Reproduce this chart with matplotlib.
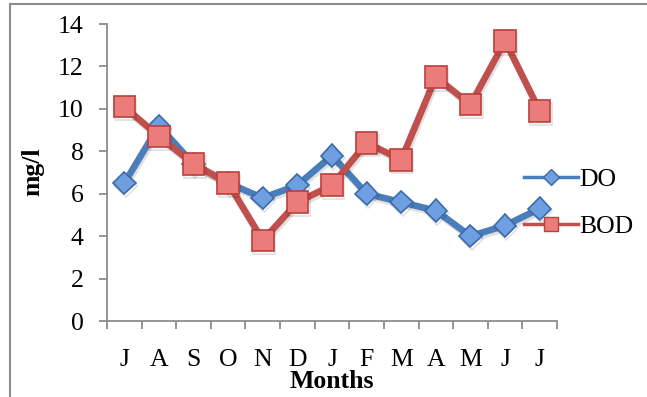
import matplotlib
matplotlib.use("Agg")
import matplotlib.pyplot as plt
from matplotlib.lines import Line2D
import matplotlib.patheffects as pe

months = ["J", "A", "S", "O", "N", "D", "J", "F", "M", "A", "M", "J", "J"]
do_vals = [6.5, 9.2, 7.4, 6.5, 5.8, 6.4, 7.8, 6.0, 5.6, 5.2, 4.0, 4.5, 5.3]
bod_vals = [10.1, 8.7, 7.4, 6.5, 3.8, 5.6, 6.4, 8.4, 7.6, 11.5, 10.2, 13.2, 9.9]
y_ticks = [0, 2, 4, 6, 8, 10, 12, 14]

FONT = "Liberation Serif"
plt.rcParams["font.family"] = [FONT, "DejaVu Serif"]
FS = 18.5

DO_LINE = "#4a7ebb"
DO_FILL = "#6f9fe0"
DO_EDGE = "#3b6aa8"
BOD_LINE = "#c0504d"
BOD_FILL = "#ec7c7a"
BOD_EDGE = "#b8403d"

fig = plt.figure(figsize=(6.47, 3.97), dpi=100)
ax = fig.add_axes([107/647, 1 - 321/397, (557-107)/647, (321-24)/397])

x = [i + 0.5 for i in range(len(months))]
shadow = [pe.SimpleLineShadow(offset=(1.0, -2.0), alpha=0.12, shadow_color="black"), pe.Normal()]

ax.plot(x, do_vals, color=DO_LINE, lw=4.8, marker="D", markersize=11.5,
        markerfacecolor=DO_FILL, markeredgecolor=DO_EDGE, markeredgewidth=1.2,
        zorder=3, path_effects=shadow)
ax.plot(x, bod_vals, color=BOD_LINE, lw=4.8, marker="s", markersize=15.5,
        markerfacecolor=BOD_FILL, markeredgecolor=BOD_EDGE, markeredgewidth=1.2,
        zorder=4, path_effects=shadow)

ax.set_xlim(0, len(months))
ax.set_ylim(0, 14)
ax.set_yticks(y_ticks)
ax.set_yticklabels([str(v) for v in y_ticks])
ax.set_xticks(range(len(months) + 1))
ax.set_xticklabels([])
ax.set_xticks(x, minor=True)
ax.set_xticklabels(months, minor=True)

spine_c = "#8c8c8c"
for s in ["top", "right"]:
    ax.spines[s].set_visible(False)
for s in ["left", "bottom"]:
    ax.spines[s].set_color(spine_c)
    ax.spines[s].set_linewidth(1.3)

ax.tick_params(axis="y", which="major", direction="out", length=6, width=1.3,
               color=spine_c, labelsize=FS, pad=11)
ax.tick_params(axis="x", which="major", direction="out", length=6, width=1.3,
               color=spine_c)
ax.tick_params(axis="x", which="minor", length=0, labelsize=FS, pad=20)

fig.text(332/647, 1 - 382/397, "Months", ha="center", va="center",
         fontsize=FS, fontweight="bold")
fig.text(33/647, 1 - 172/397, "mg/l", ha="center", va="center",
         fontsize=FS, fontweight="bold", rotation=90)

handles = [
    Line2D([], [], color=DO_LINE, lw=2.5, marker="D", markersize=8,
           markerfacecolor=DO_FILL, markeredgecolor=DO_EDGE, markeredgewidth=1),
    Line2D([], [], color=BOD_LINE, lw=2.5, marker="s", markersize=10,
           markerfacecolor=BOD_FILL, markeredgecolor=BOD_EDGE, markeredgewidth=1),
]
fig.legend(handles, ["DO", "BOD"], loc="center left",
           bbox_to_anchor=(501/647, 1 - 203/397), frameon=False,
           fontsize=FS, handlelength=2.1, handletextpad=0.05, labelspacing=0.95)

# outer chart frame (left and top edges visible)
fig.add_artist(Line2D([10/647, 10/647], [0, 1 - 4/397], transform=fig.transFigure,
                      color="#8c8c8c", lw=1.5))
fig.add_artist(Line2D([10/647, 1], [1 - 4/397, 1 - 4/397], transform=fig.transFigure,
                      color="#8c8c8c", lw=1.5))

fig.savefig("out.png", dpi=100)
